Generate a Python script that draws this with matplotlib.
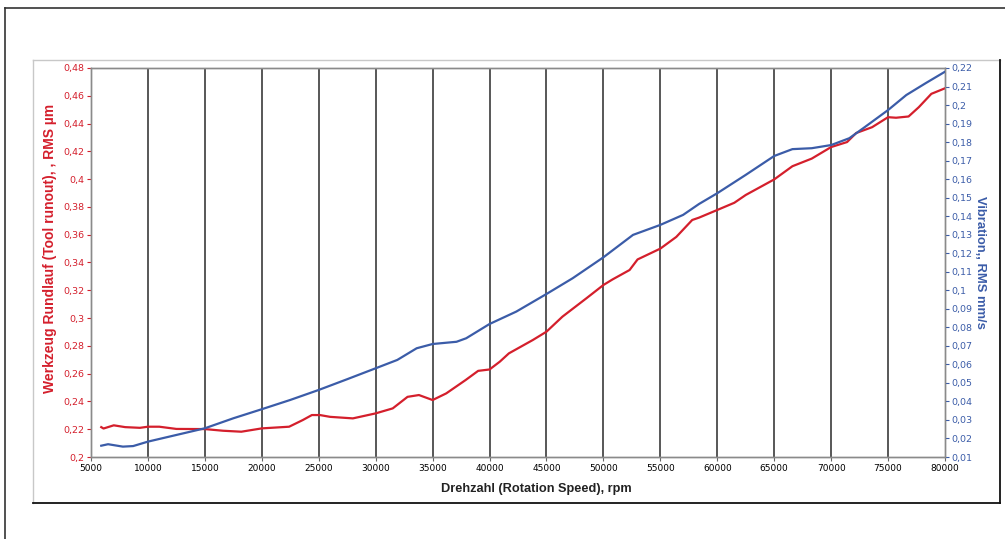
import numpy as np
import matplotlib
matplotlib.use("Agg")
import matplotlib.pyplot as plt
from matplotlib.ticker import FuncFormatter, MultipleLocator
from matplotlib.lines import Line2D

# tool runout (left axis), RMS um
runout_rpm = [5900, 6100, 7000, 8000, 9300, 10000, 11000, 12500, 15000, 16600,
              18200, 20000, 22400, 23600, 24400, 25100, 26000, 28000, 30000, 31500,
              32800, 33800, 35000, 36200, 37900, 39000, 40000, 40900, 41700, 43800,
              45000, 46400, 48500, 50000, 50800, 52300, 53000, 55000, 56400, 57800,
              58400, 60000, 61500, 62500, 65000, 66600, 68300, 70000, 71400, 72200,
              73600, 75000, 75700, 76800, 77700, 78800, 80000]
runout_rms = [0.2215, 0.2205, 0.2228, 0.2215, 0.2210, 0.2218, 0.2218, 0.2202, 0.2201, 0.2189,
              0.2182, 0.2206, 0.2218, 0.2266, 0.2302, 0.2302, 0.2289, 0.2278, 0.2314, 0.2350,
              0.2433, 0.2446, 0.2410, 0.2458, 0.2554, 0.2620, 0.2630, 0.2686, 0.2746, 0.2842,
              0.2902, 0.3010, 0.3142, 0.3238, 0.3278, 0.3346, 0.3422, 0.3500, 0.3584, 0.3706,
              0.3723, 0.3778, 0.3830, 0.3886, 0.3998, 0.4093, 0.4148, 0.4231, 0.4267, 0.4332,
              0.4374, 0.4446, 0.4442, 0.4451, 0.4518, 0.4614, 0.4654]

# vibration (right axis), RMS mm/s
vib_rpm = [5900, 6500, 7800, 8700, 10000, 12500, 15000, 17500, 20000, 22500,
           25000, 27500, 30000, 31900, 33600, 35000, 37100, 37950, 40000, 42350,
           45000, 47300, 50000, 52600, 55000, 57000, 58400, 60000, 62500, 65000,
           66600, 68300, 70000, 71600, 73000, 75000, 76600, 78300, 80000]
vib_rms = [0.0161, 0.0169, 0.0156, 0.0159, 0.0183, 0.0219, 0.0255, 0.0309, 0.0358, 0.0408,
           0.0462, 0.0520, 0.0579, 0.0624, 0.0687, 0.0710, 0.0722, 0.0741, 0.0818, 0.0885,
           0.0980, 0.1065, 0.1178, 0.1299, 0.1353, 0.1407, 0.1466, 0.1524, 0.1623, 0.1725,
           0.1762, 0.1767, 0.1784, 0.1821, 0.1883, 0.1973, 0.2054, 0.2118, 0.2180]

RED = "#d41f2c"
BLUE = "#3b5ca8"
LABEL_FONT = ["Liberation Sans", "DejaVu Sans"]


def de_fmt(v, pos=None):
    # German decimal comma, trailing zeros dropped
    s = f"{v:.2f}".rstrip("0").rstrip(".")
    return s.replace(".", ",")


fig = plt.figure(figsize=(10.05, 5.39), dpi=100)
fig.patch.set_facecolor("white")

# outer frame and chart box
fig.add_artist(Line2D([5 / 1005, 5 / 1005], [0, 1 - 8 / 539], color="#333333", lw=1.2))
fig.add_artist(Line2D([5 / 1005, 1], [1 - 8 / 539, 1 - 8 / 539], color="#333333", lw=1.2))
box_l, box_r = 33 / 1005, 1000 / 1005
box_t, box_b = 1 - 60 / 539, 1 - 503 / 539
fig.add_artist(Line2D([box_l, box_r], [box_t, box_t], color="#c8c8c8", lw=1.0))
fig.add_artist(Line2D([box_l, box_l], [box_b, box_t], color="#c8c8c8", lw=1.0))
fig.add_artist(Line2D([box_l, box_r], [box_b, box_b], color="#111111", lw=1.3))
fig.add_artist(Line2D([box_r, box_r], [box_b, box_t], color="#111111", lw=1.3))

ax = fig.add_axes([91 / 1005, 82 / 539, 854 / 1005, 389 / 539])
ax2 = ax.twinx()

ax.set_xlim(5000, 80000)
ax.set_ylim(0.2, 0.48)
ax2.set_ylim(0.01, 0.22)

ax.xaxis.set_major_locator(MultipleLocator(5000))
ax.yaxis.set_major_locator(MultipleLocator(0.02))
ax2.yaxis.set_major_locator(MultipleLocator(0.01))
ax.yaxis.set_major_formatter(FuncFormatter(de_fmt))
ax2.yaxis.set_major_formatter(FuncFormatter(de_fmt))

for x in range(10000, 80000, 5000):
    ax.axvline(x, color="#4a4a4a", lw=1.3, zorder=1)

ax.plot(runout_rpm, runout_rms, color=RED, lw=1.6, zorder=3)
ax2.plot(vib_rpm, vib_rms, color=BLUE, lw=1.6, zorder=3)

for a in (ax, ax2):
    for sp in a.spines.values():
        sp.set_color("#8a8a8a")
        sp.set_linewidth(1.0)

ax.tick_params(axis="x", labelsize=6.5, length=3, width=0.8, color="#666666", pad=2)
ax.tick_params(axis="y", labelsize=6.8, length=3, width=0.8, color=RED, labelcolor=RED, pad=1.5)
ax2.tick_params(axis="y", labelsize=6.8, length=3, width=0.8, color=BLUE, labelcolor=BLUE, pad=1.5)

ax.set_xlabel("Drehzahl (Rotation Speed), rpm", fontsize=9.2, fontweight="bold",
              color="#222222", family=LABEL_FONT)
ax.xaxis.set_label_coords(0.522, -0.067)
ax.set_ylabel("Werkzeug Rundlauf (Tool runout), , RMS µm", fontsize=10, fontweight="bold",
              color=RED, family=LABEL_FONT)
ax.yaxis.set_label_coords(-0.04, 0.537)
ax2.set_ylabel("Vibration,, RMS mm/s", fontsize=9.4, fontweight="bold", color=BLUE,
               rotation=-90, family=LABEL_FONT)
ax2.yaxis.set_label_coords(1.048, 0.50)

fig.savefig("out.png", dpi=100)
